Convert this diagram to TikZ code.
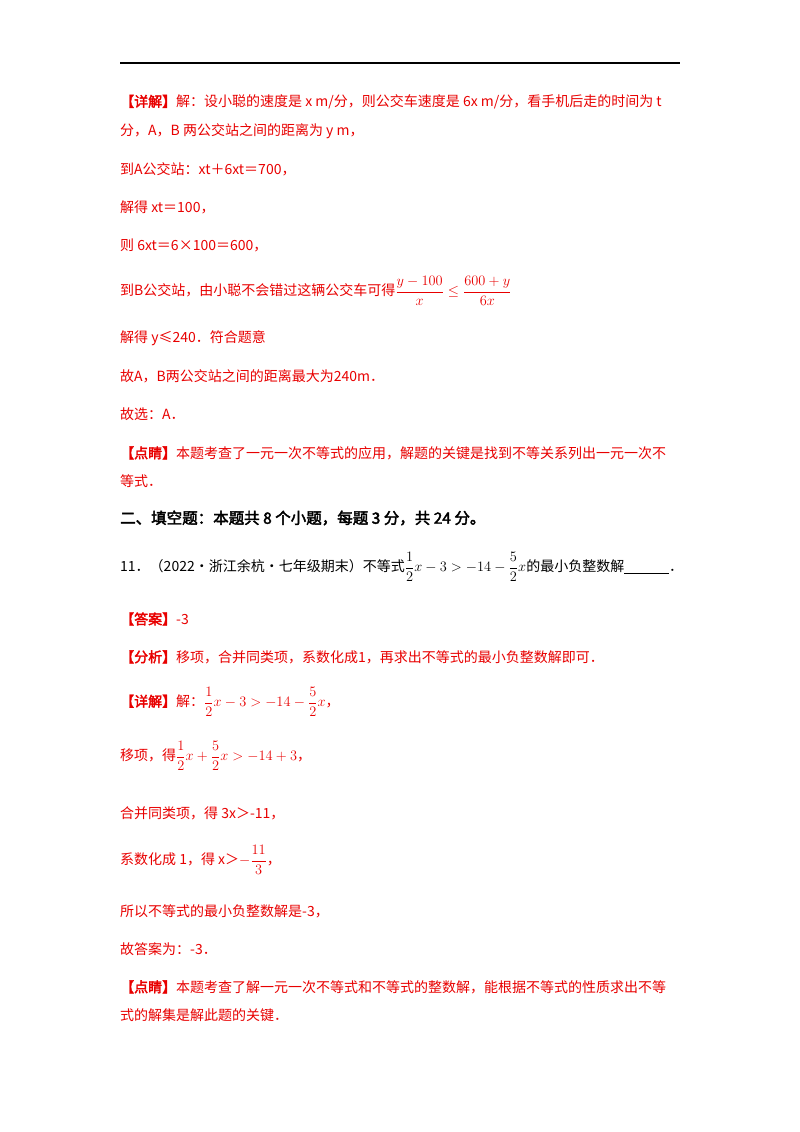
\documentclass[tikz,border=0pt]{standalone}
\usepackage{amsmath,amssymb}
\usepackage{fontspec}
\setmainfont{Noto Sans CJK SC}[AutoFakeBold=2.5]
\definecolor{rd}{RGB}{232,0,0}
\begin{document}
\begin{tikzpicture}[x=1pt,y=-1pt,
  ln/.style={anchor=west,inner sep=0pt,font=\fontsize{14}{16}\selectfont,text=rd},
  bk/.style={ln,text=black}]
\useasboundingbox (0,0) rectangle (800,1132);
\draw[line width=1.2pt] (120,63) coordinate (r1) -- (680,63) coordinate (r2);
\node[ln] (l1) at (120,102) {\textbf{【详解】}解：设小聪的速度是 x m/分，则公交车速度是 6x m/分，看手机后走的时间为 t};
\node[ln] (l2) at (120,131) {分，A，B 两公交站之间的距离为 y m，};
\node[ln] (l3) at (120,169) {到A公交站：xt＋6xt＝700，};
\node[ln] (l4) at (120,207) {解得 xt＝100，};
\node[ln] (l5) at (120,245) {则 6xt＝6×100＝600，};
\node[ln] (l6) at (120,291) {到B公交站，由小聪不会错过这辆公交车可得$\dfrac{y-100}{x}\le\dfrac{600+y}{6x}$};
\node[ln] (l7) at (120,338) {解得 y≤240．符合题意};
\node[ln] (l8) at (120,376) {故A，B两公交站之间的距离最大为240m．};
\node[ln] (l9) at (120,414) {故选：A．};
\node[ln] (l10) at (120,453) {\textbf{【点睛】}本题考查了一元一次不等式的应用，解题的关键是找到不等关系列出一元一次不};
\node[ln] (l11) at (120,481) {等式．};
\node[bk,font=\fontsize{15.5}{18}\selectfont] (h) at (120,518) {\textbf{二、填空题：本题共 8 个小题，每题 3 分，共 24 分。}};
\node[bk] (q) at (120,567) {11．（2022·浙江余杭·七年级期末）不等式$\dfrac12x-3>-14-\dfrac52x$的最小负整数解\underline{\hspace{3.2em}}．};
\node[ln] (a1) at (120,619) {\textbf{【答案】}-3};
\node[ln] (a2) at (120,657) {\textbf{【分析】}移项，合并同类项，系数化成1，再求出不等式的最小负整数解即可．};
\node[ln] (a3) at (120,702) {\textbf{【详解】}解：$\dfrac12x-3>-14-\dfrac52x$，};
\node[ln] (a4) at (120,756) {移项，得$\dfrac12x+\dfrac52x>-14+3$，};
\node[ln] (a5) at (120,813) {合并同类项，得 3x＞-11，};
\node[ln] (a6) at (120,860) {系数化成 1，得 x＞$-\dfrac{11}{3}$，};
\node[ln] (a7) at (120,911) {所以不等式的最小负整数解是-3，};
\node[ln] (a8) at (120,949) {故答案为：-3．};
\node[ln] (a9) at (120,987) {\textbf{【点睛】}本题考查了解一元一次不等式和不等式的整数解，能根据不等式的性质求出不等};
\node[ln] (a10) at (120,1015) {式的解集是解此题的关键．};
\end{tikzpicture}
\end{document}
